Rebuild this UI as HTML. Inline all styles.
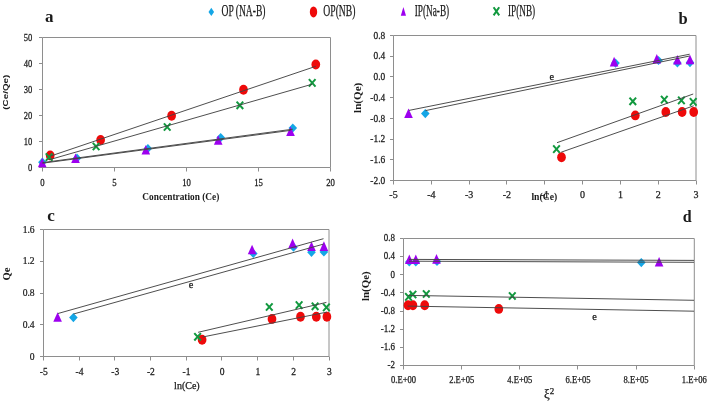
<!DOCTYPE html>
<html><head><meta charset="utf-8"><style>
html,body{margin:0;padding:0;background:#fff;}
body{width:708px;height:402px;overflow:hidden;font-family:"Liberation Serif",serif;}
svg{display:block;will-change:transform;}
text{stroke:#1a1a1a;stroke-width:0.25px;}
text[font-weight="bold"]{stroke-width:0;}
</style></head><body>
<svg width="708" height="402" viewBox="0 0 708 402">
<rect width="708" height="402" fill="#fff"/>
<polygon points="211.3,7.8 214.1,11.9 211.3,16.0 208.5,11.9" fill="#14a6e6"/>
<text x="221.5" y="15.6" font-family="Liberation Serif, serif" font-size="16" font-weight="normal" text-anchor="start" fill="#1a1a1a" textLength="44.0" lengthAdjust="spacingAndGlyphs">OP (NA-B)</text>
<ellipse cx="313.5" cy="11.9" rx="3.7" ry="5.5" fill="#ee0a0a"/>
<text x="323.3" y="15.6" font-family="Liberation Serif, serif" font-size="16" font-weight="normal" text-anchor="start" fill="#1a1a1a" textLength="32.2" lengthAdjust="spacingAndGlyphs">OP(NB)</text>
<polygon points="403.4,7.0 406.0,15.8 400.8,15.8" fill="#9d00ef"/>
<text x="414.7" y="15.6" font-family="Liberation Serif, serif" font-size="16" font-weight="normal" text-anchor="start" fill="#1a1a1a" textLength="34.5" lengthAdjust="spacingAndGlyphs">IP(Na-B)</text>
<path d="M493.6,7.2L499.2,15.4M499.2,7.2L493.6,15.4" stroke="#12993f" stroke-width="2.0" fill="none"/>
<text x="508.0" y="15.6" font-family="Liberation Serif, serif" font-size="16" font-weight="normal" text-anchor="start" fill="#1a1a1a" textLength="27.2" lengthAdjust="spacingAndGlyphs">IP(NB)</text>
<line x1="42.5" y1="37.5" x2="330.5" y2="37.5" stroke="#8e8e8e" stroke-width="1"/>
<line x1="330.5" y1="37.5" x2="330.5" y2="167.5" stroke="#8e8e8e" stroke-width="1"/>
<line x1="42.5" y1="37.5" x2="42.5" y2="167.5" stroke="#8e8e8e" stroke-width="1"/>
<line x1="42.0" y1="167.5" x2="330.5" y2="167.5" stroke="#8e8e8e" stroke-width="1"/>
<line x1="39.0" y1="167.5" x2="42.5" y2="167.5" stroke="#8e8e8e" stroke-width="1"/>
<text transform="translate(32.4,170.9) scale(0.84,1)" font-family="Liberation Serif, serif" font-size="10.2" font-weight="normal" text-anchor="end" fill="#1a1a1a">0</text>
<line x1="39.0" y1="141.5" x2="42.5" y2="141.5" stroke="#8e8e8e" stroke-width="1"/>
<text transform="translate(32.4,144.9) scale(0.84,1)" font-family="Liberation Serif, serif" font-size="10.2" font-weight="normal" text-anchor="end" fill="#1a1a1a">10</text>
<line x1="39.0" y1="115.5" x2="42.5" y2="115.5" stroke="#8e8e8e" stroke-width="1"/>
<text transform="translate(32.4,118.9) scale(0.84,1)" font-family="Liberation Serif, serif" font-size="10.2" font-weight="normal" text-anchor="end" fill="#1a1a1a">20</text>
<line x1="39.0" y1="89.5" x2="42.5" y2="89.5" stroke="#8e8e8e" stroke-width="1"/>
<text transform="translate(32.4,92.9) scale(0.84,1)" font-family="Liberation Serif, serif" font-size="10.2" font-weight="normal" text-anchor="end" fill="#1a1a1a">30</text>
<line x1="39.0" y1="63.5" x2="42.5" y2="63.5" stroke="#8e8e8e" stroke-width="1"/>
<text transform="translate(32.4,66.9) scale(0.84,1)" font-family="Liberation Serif, serif" font-size="10.2" font-weight="normal" text-anchor="end" fill="#1a1a1a">40</text>
<line x1="39.0" y1="37.5" x2="42.5" y2="37.5" stroke="#8e8e8e" stroke-width="1"/>
<text transform="translate(32.4,40.9) scale(0.84,1)" font-family="Liberation Serif, serif" font-size="10.2" font-weight="normal" text-anchor="end" fill="#1a1a1a">50</text>
<line x1="42.5" y1="167.5" x2="42.5" y2="171.5" stroke="#8e8e8e" stroke-width="1"/>
<text transform="translate(42.5,185.5) scale(0.84,1)" font-family="Liberation Serif, serif" font-size="10.4" font-weight="normal" text-anchor="middle" fill="#1a1a1a">0</text>
<line x1="114.5" y1="167.5" x2="114.5" y2="171.5" stroke="#8e8e8e" stroke-width="1"/>
<text transform="translate(114.5,185.5) scale(0.84,1)" font-family="Liberation Serif, serif" font-size="10.4" font-weight="normal" text-anchor="middle" fill="#1a1a1a">5</text>
<line x1="186.5" y1="167.5" x2="186.5" y2="171.5" stroke="#8e8e8e" stroke-width="1"/>
<text transform="translate(186.5,185.5) scale(0.84,1)" font-family="Liberation Serif, serif" font-size="10.4" font-weight="normal" text-anchor="middle" fill="#1a1a1a">10</text>
<line x1="258.5" y1="167.5" x2="258.5" y2="171.5" stroke="#8e8e8e" stroke-width="1"/>
<text transform="translate(258.5,185.5) scale(0.84,1)" font-family="Liberation Serif, serif" font-size="10.4" font-weight="normal" text-anchor="middle" fill="#1a1a1a">15</text>
<line x1="330.5" y1="167.5" x2="330.5" y2="171.5" stroke="#8e8e8e" stroke-width="1"/>
<text transform="translate(330.5,185.5) scale(0.84,1)" font-family="Liberation Serif, serif" font-size="10.4" font-weight="normal" text-anchor="middle" fill="#1a1a1a">20</text>
<text x="142.3" y="200.1" font-family="Liberation Serif, serif" font-size="10.4" font-weight="bold" text-anchor="start" fill="#1a1a1a" textLength="77.0" lengthAdjust="spacingAndGlyphs">Concentration (Ce)</text>
<text transform="translate(5.0,92.2) rotate(-90)" x="0" y="2.6" font-family="Liberation Sans, serif" font-size="7.5" font-weight="bold" text-anchor="middle" fill="#1a1a1a" textLength="35.0" lengthAdjust="spacingAndGlyphs">(Ce/Qe)</text>
<text x="45.0" y="22.0" font-family="Liberation Serif, serif" font-size="17" font-weight="bold" text-anchor="start" fill="#1a1a1a">a</text>
<polygon points="42.4,157.6 46.7,162.2 42.4,166.8 38.1,162.2" fill="#14a6e6"/>
<polygon points="77.0,153.6 81.3,158.2 77.0,162.8 72.7,158.2" fill="#14a6e6"/>
<polygon points="147.9,143.9 152.2,148.5 147.9,153.1 143.6,148.5" fill="#14a6e6"/>
<polygon points="220.7,133.0 225.0,137.6 220.7,142.2 216.4,137.6" fill="#14a6e6"/>
<polygon points="292.8,123.4 297.1,128.0 292.8,132.6 288.5,128.0" fill="#14a6e6"/>
<polygon points="42.2,157.7 46.5,167.3 37.9,167.3" fill="#9d00ef"/>
<polygon points="75.5,153.4 79.8,163.0 71.2,163.0" fill="#9d00ef"/>
<polygon points="145.8,144.9 150.1,154.5 141.5,154.5" fill="#9d00ef"/>
<polygon points="218.2,135.2 222.5,144.8 213.9,144.8" fill="#9d00ef"/>
<polygon points="290.5,126.5 294.8,136.1 286.2,136.1" fill="#9d00ef"/>
<ellipse cx="50.2" cy="155.4" rx="4.35" ry="4.95" fill="#ee0a0a"/>
<ellipse cx="100.6" cy="140.0" rx="4.35" ry="4.95" fill="#ee0a0a"/>
<ellipse cx="171.6" cy="115.7" rx="4.35" ry="4.95" fill="#ee0a0a"/>
<ellipse cx="243.5" cy="89.8" rx="4.35" ry="4.95" fill="#ee0a0a"/>
<ellipse cx="315.8" cy="64.5" rx="4.35" ry="4.95" fill="#ee0a0a"/>
<path d="M45.8,153.4L52.4,160.8M52.4,153.4L45.8,160.8" stroke="#12993f" stroke-width="2.0" fill="none"/>
<path d="M92.8,142.8L99.4,150.2M99.4,142.8L92.8,150.2" stroke="#12993f" stroke-width="2.0" fill="none"/>
<path d="M163.9,123.3L170.5,130.7M170.5,123.3L163.9,130.7" stroke="#12993f" stroke-width="2.0" fill="none"/>
<path d="M236.6,101.6L243.2,109.0M243.2,101.6L236.6,109.0" stroke="#12993f" stroke-width="2.0" fill="none"/>
<path d="M308.9,79.2L315.5,86.6M315.5,79.2L308.9,86.6" stroke="#12993f" stroke-width="2.0" fill="none"/>
<line x1="42.5" y1="163.2" x2="290.5" y2="130.4" stroke="#454545" stroke-width="0.95"/>
<line x1="42.5" y1="162.6" x2="292.8" y2="129.2" stroke="#454545" stroke-width="0.95"/>
<line x1="49.1" y1="159.8" x2="312.2" y2="84.2" stroke="#454545" stroke-width="0.95"/>
<line x1="50.2" y1="156.2" x2="315.8" y2="66.3" stroke="#454545" stroke-width="0.95"/>
<line x1="393.5" y1="35.5" x2="696.0" y2="35.5" stroke="#8e8e8e" stroke-width="1"/>
<line x1="696.0" y1="35.5" x2="696.0" y2="180.5" stroke="#8e8e8e" stroke-width="1"/>
<line x1="393.5" y1="35.5" x2="393.5" y2="180.5" stroke="#8e8e8e" stroke-width="1"/>
<line x1="393.0" y1="180.5" x2="696.0" y2="180.5" stroke="#8e8e8e" stroke-width="1"/>
<line x1="390.0" y1="35.5" x2="393.5" y2="35.5" stroke="#8e8e8e" stroke-width="1"/>
<text transform="translate(385.2,38.7) scale(0.92,1)" font-family="Liberation Serif, serif" font-size="10.2" font-weight="normal" text-anchor="end" fill="#1a1a1a">0.8</text>
<line x1="390.0" y1="56.5" x2="393.5" y2="56.5" stroke="#8e8e8e" stroke-width="1"/>
<text transform="translate(385.2,59.4) scale(0.92,1)" font-family="Liberation Serif, serif" font-size="10.2" font-weight="normal" text-anchor="end" fill="#1a1a1a">0.4</text>
<line x1="390.0" y1="76.5" x2="393.5" y2="76.5" stroke="#8e8e8e" stroke-width="1"/>
<text transform="translate(385.2,80.1) scale(0.92,1)" font-family="Liberation Serif, serif" font-size="10.2" font-weight="normal" text-anchor="end" fill="#1a1a1a">0.0</text>
<line x1="390.0" y1="97.5" x2="393.5" y2="97.5" stroke="#8e8e8e" stroke-width="1"/>
<text transform="translate(385.2,100.8) scale(0.92,1)" font-family="Liberation Serif, serif" font-size="10.2" font-weight="normal" text-anchor="end" fill="#1a1a1a">-0.4</text>
<line x1="390.0" y1="118.5" x2="393.5" y2="118.5" stroke="#8e8e8e" stroke-width="1"/>
<text transform="translate(385.2,121.6) scale(0.92,1)" font-family="Liberation Serif, serif" font-size="10.2" font-weight="normal" text-anchor="end" fill="#1a1a1a">-0.8</text>
<line x1="390.0" y1="139.5" x2="393.5" y2="139.5" stroke="#8e8e8e" stroke-width="1"/>
<text transform="translate(385.2,142.3) scale(0.92,1)" font-family="Liberation Serif, serif" font-size="10.2" font-weight="normal" text-anchor="end" fill="#1a1a1a">-1.2</text>
<line x1="390.0" y1="159.5" x2="393.5" y2="159.5" stroke="#8e8e8e" stroke-width="1"/>
<text transform="translate(385.2,163.0) scale(0.92,1)" font-family="Liberation Serif, serif" font-size="10.2" font-weight="normal" text-anchor="end" fill="#1a1a1a">-1.6</text>
<line x1="390.0" y1="180.5" x2="393.5" y2="180.5" stroke="#8e8e8e" stroke-width="1"/>
<text transform="translate(385.2,183.7) scale(0.92,1)" font-family="Liberation Serif, serif" font-size="10.2" font-weight="normal" text-anchor="end" fill="#1a1a1a">-2.0</text>
<line x1="393.5" y1="180.5" x2="393.5" y2="184.5" stroke="#8e8e8e" stroke-width="1"/>
<text x="393.5" y="198.1" font-family="Liberation Serif, serif" font-size="10" font-weight="normal" text-anchor="middle" fill="#1a1a1a">-5</text>
<line x1="431.5" y1="180.5" x2="431.5" y2="184.5" stroke="#8e8e8e" stroke-width="1"/>
<text x="431.3" y="198.1" font-family="Liberation Serif, serif" font-size="10" font-weight="normal" text-anchor="middle" fill="#1a1a1a">-4</text>
<line x1="469.5" y1="180.5" x2="469.5" y2="184.5" stroke="#8e8e8e" stroke-width="1"/>
<text x="469.1" y="198.1" font-family="Liberation Serif, serif" font-size="10" font-weight="normal" text-anchor="middle" fill="#1a1a1a">-3</text>
<line x1="506.5" y1="180.5" x2="506.5" y2="184.5" stroke="#8e8e8e" stroke-width="1"/>
<text x="506.9" y="198.1" font-family="Liberation Serif, serif" font-size="10" font-weight="normal" text-anchor="middle" fill="#1a1a1a">-2</text>
<line x1="544.5" y1="180.5" x2="544.5" y2="184.5" stroke="#8e8e8e" stroke-width="1"/>
<text x="544.8" y="198.1" font-family="Liberation Serif, serif" font-size="10" font-weight="normal" text-anchor="middle" fill="#1a1a1a">-1</text>
<line x1="582.5" y1="180.5" x2="582.5" y2="184.5" stroke="#8e8e8e" stroke-width="1"/>
<text x="582.6" y="198.1" font-family="Liberation Serif, serif" font-size="10" font-weight="normal" text-anchor="middle" fill="#1a1a1a">0</text>
<line x1="620.5" y1="180.5" x2="620.5" y2="184.5" stroke="#8e8e8e" stroke-width="1"/>
<text x="620.4" y="198.1" font-family="Liberation Serif, serif" font-size="10" font-weight="normal" text-anchor="middle" fill="#1a1a1a">1</text>
<line x1="658.5" y1="180.5" x2="658.5" y2="184.5" stroke="#8e8e8e" stroke-width="1"/>
<text x="658.2" y="198.1" font-family="Liberation Serif, serif" font-size="10" font-weight="normal" text-anchor="middle" fill="#1a1a1a">2</text>
<line x1="696.5" y1="180.5" x2="696.5" y2="184.5" stroke="#8e8e8e" stroke-width="1"/>
<text x="696.0" y="198.1" font-family="Liberation Serif, serif" font-size="10" font-weight="normal" text-anchor="middle" fill="#1a1a1a">3</text>
<text x="531.4" y="199.6" font-family="Liberation Serif, serif" font-size="10.2" font-weight="bold" text-anchor="start" fill="#1a1a1a" textLength="25.8" lengthAdjust="spacingAndGlyphs">ln(Ce)</text>
<text transform="translate(357.8,97.8) rotate(-90)" x="0" y="3.3" font-family="Liberation Serif, serif" font-size="9.4" font-weight="bold" text-anchor="middle" fill="#1a1a1a" textLength="30.2" lengthAdjust="spacingAndGlyphs">ln(Qe)</text>
<text x="678.5" y="24.3" font-family="Liberation Serif, serif" font-size="16.5" font-weight="bold" text-anchor="start" fill="#1a1a1a">b</text>
<text x="551.8" y="79.9" font-family="Liberation Serif, serif" font-size="10.4" font-weight="normal" text-anchor="middle" fill="#1a1a1a">e</text>
<polygon points="425.3,109.0 429.6,113.6 425.3,118.2 421.0,113.6" fill="#14a6e6"/>
<polygon points="615.5,58.5 619.8,63.1 615.5,67.7 611.2,63.1" fill="#14a6e6"/>
<polygon points="658.5,55.9 662.8,60.5 658.5,65.1 654.2,60.5" fill="#14a6e6"/>
<polygon points="677.4,58.4 681.7,63.0 677.4,67.6 673.1,63.0" fill="#14a6e6"/>
<polygon points="690.0,58.0 694.3,62.6 690.0,67.2 685.7,62.6" fill="#14a6e6"/>
<polygon points="408.5,108.4 412.8,118.0 404.2,118.0" fill="#9d00ef"/>
<polygon points="614.1,56.8 618.4,66.4 609.8,66.4" fill="#9d00ef"/>
<polygon points="656.8,54.0 661.1,63.6 652.5,63.6" fill="#9d00ef"/>
<polygon points="677.4,54.9 681.7,64.5 673.1,64.5" fill="#9d00ef"/>
<polygon points="690.0,54.7 694.3,64.3 685.7,64.3" fill="#9d00ef"/>
<ellipse cx="561.5" cy="157.3" rx="4.35" ry="4.95" fill="#ee0a0a"/>
<ellipse cx="635.3" cy="115.4" rx="4.35" ry="4.95" fill="#ee0a0a"/>
<ellipse cx="665.8" cy="112.0" rx="4.35" ry="4.95" fill="#ee0a0a"/>
<ellipse cx="682.1" cy="112.0" rx="4.35" ry="4.95" fill="#ee0a0a"/>
<ellipse cx="693.7" cy="112.0" rx="4.35" ry="4.95" fill="#ee0a0a"/>
<path d="M553.2,145.4L559.8,152.8M559.8,145.4L553.2,152.8" stroke="#12993f" stroke-width="2.0" fill="none"/>
<path d="M629.5,97.6L636.1,105.0M636.1,97.6L629.5,105.0" stroke="#12993f" stroke-width="2.0" fill="none"/>
<path d="M661.0,95.9L667.6,103.3M667.6,95.9L661.0,103.3" stroke="#12993f" stroke-width="2.0" fill="none"/>
<path d="M678.1,96.7L684.7,104.1M684.7,96.7L678.1,104.1" stroke="#12993f" stroke-width="2.0" fill="none"/>
<path d="M689.9,98.2L696.5,105.6M696.5,98.2L689.9,105.6" stroke="#12993f" stroke-width="2.0" fill="none"/>
<line x1="409.0" y1="110.4" x2="689.7" y2="54.2" stroke="#454545" stroke-width="0.95"/>
<line x1="425.5" y1="110.6" x2="689.7" y2="56.0" stroke="#454545" stroke-width="0.95"/>
<line x1="557.0" y1="142.7" x2="693.2" y2="94.0" stroke="#454545" stroke-width="0.95"/>
<line x1="561.2" y1="152.2" x2="693.7" y2="105.8" stroke="#454545" stroke-width="0.95"/>
<line x1="43.5" y1="229.5" x2="329.0" y2="229.5" stroke="#8e8e8e" stroke-width="1"/>
<line x1="329.0" y1="229.5" x2="329.0" y2="356.5" stroke="#8e8e8e" stroke-width="1"/>
<line x1="43.5" y1="229.5" x2="43.5" y2="356.5" stroke="#8e8e8e" stroke-width="1"/>
<line x1="43.0" y1="356.5" x2="329.0" y2="356.5" stroke="#8e8e8e" stroke-width="1"/>
<line x1="40.0" y1="356.5" x2="43.5" y2="356.5" stroke="#8e8e8e" stroke-width="1"/>
<text transform="translate(34.6,359.6) scale(0.88,1)" font-family="Liberation Serif, serif" font-size="10.9" font-weight="normal" text-anchor="end" fill="#1a1a1a">0</text>
<line x1="40.0" y1="324.5" x2="43.5" y2="324.5" stroke="#8e8e8e" stroke-width="1"/>
<text transform="translate(34.6,327.9) scale(0.88,1)" font-family="Liberation Serif, serif" font-size="10.9" font-weight="normal" text-anchor="end" fill="#1a1a1a">0.4</text>
<line x1="40.0" y1="293.5" x2="43.5" y2="293.5" stroke="#8e8e8e" stroke-width="1"/>
<text transform="translate(34.6,296.1) scale(0.88,1)" font-family="Liberation Serif, serif" font-size="10.9" font-weight="normal" text-anchor="end" fill="#1a1a1a">0.8</text>
<line x1="40.0" y1="261.5" x2="43.5" y2="261.5" stroke="#8e8e8e" stroke-width="1"/>
<text transform="translate(34.6,264.4) scale(0.88,1)" font-family="Liberation Serif, serif" font-size="10.9" font-weight="normal" text-anchor="end" fill="#1a1a1a">1.2</text>
<line x1="40.0" y1="229.5" x2="43.5" y2="229.5" stroke="#8e8e8e" stroke-width="1"/>
<text transform="translate(34.6,232.6) scale(0.88,1)" font-family="Liberation Serif, serif" font-size="10.9" font-weight="normal" text-anchor="end" fill="#1a1a1a">1.6</text>
<line x1="43.5" y1="356.5" x2="43.5" y2="360.5" stroke="#8e8e8e" stroke-width="1"/>
<text transform="translate(43.8,374.6) scale(0.92,1)" font-family="Liberation Serif, serif" font-size="10.4" font-weight="normal" text-anchor="middle" fill="#1a1a1a">-5</text>
<line x1="79.5" y1="356.5" x2="79.5" y2="360.5" stroke="#8e8e8e" stroke-width="1"/>
<text transform="translate(79.5,374.6) scale(0.92,1)" font-family="Liberation Serif, serif" font-size="10.4" font-weight="normal" text-anchor="middle" fill="#1a1a1a">-4</text>
<line x1="114.5" y1="356.5" x2="114.5" y2="360.5" stroke="#8e8e8e" stroke-width="1"/>
<text transform="translate(115.2,374.6) scale(0.92,1)" font-family="Liberation Serif, serif" font-size="10.4" font-weight="normal" text-anchor="middle" fill="#1a1a1a">-3</text>
<line x1="150.5" y1="356.5" x2="150.5" y2="360.5" stroke="#8e8e8e" stroke-width="1"/>
<text transform="translate(150.9,374.6) scale(0.92,1)" font-family="Liberation Serif, serif" font-size="10.4" font-weight="normal" text-anchor="middle" fill="#1a1a1a">-2</text>
<line x1="186.5" y1="356.5" x2="186.5" y2="360.5" stroke="#8e8e8e" stroke-width="1"/>
<text transform="translate(186.6,374.6) scale(0.92,1)" font-family="Liberation Serif, serif" font-size="10.4" font-weight="normal" text-anchor="middle" fill="#1a1a1a">-1</text>
<line x1="221.5" y1="356.5" x2="221.5" y2="360.5" stroke="#8e8e8e" stroke-width="1"/>
<text transform="translate(222.2,374.6) scale(0.92,1)" font-family="Liberation Serif, serif" font-size="10.4" font-weight="normal" text-anchor="middle" fill="#1a1a1a">0</text>
<line x1="257.5" y1="356.5" x2="257.5" y2="360.5" stroke="#8e8e8e" stroke-width="1"/>
<text transform="translate(257.9,374.6) scale(0.92,1)" font-family="Liberation Serif, serif" font-size="10.4" font-weight="normal" text-anchor="middle" fill="#1a1a1a">1</text>
<line x1="293.5" y1="356.5" x2="293.5" y2="360.5" stroke="#8e8e8e" stroke-width="1"/>
<text transform="translate(293.6,374.6) scale(0.92,1)" font-family="Liberation Serif, serif" font-size="10.4" font-weight="normal" text-anchor="middle" fill="#1a1a1a">2</text>
<line x1="329.5" y1="356.5" x2="329.5" y2="360.5" stroke="#8e8e8e" stroke-width="1"/>
<text transform="translate(329.3,374.6) scale(0.92,1)" font-family="Liberation Serif, serif" font-size="10.4" font-weight="normal" text-anchor="middle" fill="#1a1a1a">3</text>
<text x="174.1" y="388.6" font-family="Liberation Serif, serif" font-size="10" font-weight="normal" text-anchor="start" fill="#1a1a1a" textLength="25.6" lengthAdjust="spacingAndGlyphs">ln(Ce)</text>
<text transform="translate(6.1,274.0) rotate(-90)" x="0" y="3.5" font-family="Liberation Serif, serif" font-size="10" font-weight="bold" text-anchor="middle" fill="#1a1a1a" textLength="13.0" lengthAdjust="spacingAndGlyphs">Qe</text>
<text x="47.3" y="221.4" font-family="Liberation Serif, serif" font-size="17" font-weight="bold" text-anchor="start" fill="#1a1a1a">c</text>
<text x="191.0" y="288.3" font-family="Liberation Serif, serif" font-size="10.4" font-weight="normal" text-anchor="middle" fill="#1a1a1a">e</text>
<polygon points="73.4,313.0 77.7,317.6 73.4,322.2 69.1,317.6" fill="#14a6e6"/>
<polygon points="253.3,248.9 257.6,253.5 253.3,258.1 249.0,253.5" fill="#14a6e6"/>
<polygon points="293.5,242.6 297.8,247.2 293.5,251.8 289.2,247.2" fill="#14a6e6"/>
<polygon points="311.5,247.7 315.8,252.3 311.5,256.9 307.2,252.3" fill="#14a6e6"/>
<polygon points="323.9,247.4 328.2,252.0 323.9,256.6 319.6,252.0" fill="#14a6e6"/>
<polygon points="57.6,312.2 61.9,321.8 53.3,321.8" fill="#9d00ef"/>
<polygon points="252.1,244.7 256.4,254.3 247.8,254.3" fill="#9d00ef"/>
<polygon points="292.6,238.6 296.9,248.2 288.3,248.2" fill="#9d00ef"/>
<polygon points="311.5,241.5 315.8,251.1 307.2,251.1" fill="#9d00ef"/>
<polygon points="323.9,241.3 328.2,250.9 319.6,250.9" fill="#9d00ef"/>
<ellipse cx="202.1" cy="339.7" rx="4.35" ry="4.95" fill="#ee0a0a"/>
<ellipse cx="272.0" cy="318.9" rx="4.35" ry="4.95" fill="#ee0a0a"/>
<ellipse cx="300.5" cy="316.7" rx="4.35" ry="4.95" fill="#ee0a0a"/>
<ellipse cx="316.3" cy="316.7" rx="4.35" ry="4.95" fill="#ee0a0a"/>
<ellipse cx="326.9" cy="316.7" rx="4.35" ry="4.95" fill="#ee0a0a"/>
<path d="M194.3,333.1L200.9,340.5M200.9,333.1L194.3,340.5" stroke="#12993f" stroke-width="2.0" fill="none"/>
<path d="M266.0,303.3L272.6,310.7M272.6,303.3L266.0,310.7" stroke="#12993f" stroke-width="2.0" fill="none"/>
<path d="M295.8,301.4L302.4,308.8M302.4,301.4L295.8,308.8" stroke="#12993f" stroke-width="2.0" fill="none"/>
<path d="M311.8,302.6L318.4,310.0M318.4,302.6L311.8,310.0" stroke="#12993f" stroke-width="2.0" fill="none"/>
<path d="M323.1,303.7L329.7,311.1M329.7,303.7L323.1,311.1" stroke="#12993f" stroke-width="2.0" fill="none"/>
<line x1="58.0" y1="313.5" x2="323.5" y2="238.7" stroke="#454545" stroke-width="0.95"/>
<line x1="73.5" y1="314.0" x2="323.5" y2="244.1" stroke="#454545" stroke-width="0.95"/>
<line x1="198.1" y1="332.3" x2="326.4" y2="302.4" stroke="#454545" stroke-width="0.95"/>
<line x1="202.6" y1="337.0" x2="326.9" y2="312.1" stroke="#454545" stroke-width="0.95"/>
<line x1="403.5" y1="238.5" x2="694.3" y2="238.5" stroke="#8e8e8e" stroke-width="1"/>
<line x1="694.3" y1="238.5" x2="694.3" y2="365.5" stroke="#8e8e8e" stroke-width="1"/>
<line x1="403.5" y1="238.5" x2="403.5" y2="365.5" stroke="#8e8e8e" stroke-width="1"/>
<line x1="403.0" y1="365.5" x2="694.3" y2="365.5" stroke="#8e8e8e" stroke-width="1"/>
<line x1="400.0" y1="238.5" x2="403.5" y2="238.5" stroke="#8e8e8e" stroke-width="1"/>
<text transform="translate(394.9,241.3) scale(0.87,1)" font-family="Liberation Serif, serif" font-size="10.3" font-weight="normal" text-anchor="end" fill="#1a1a1a">0.8</text>
<line x1="400.0" y1="256.5" x2="403.5" y2="256.5" stroke="#8e8e8e" stroke-width="1"/>
<text transform="translate(394.9,259.4) scale(0.87,1)" font-family="Liberation Serif, serif" font-size="10.3" font-weight="normal" text-anchor="end" fill="#1a1a1a">0.4</text>
<line x1="400.0" y1="274.5" x2="403.5" y2="274.5" stroke="#8e8e8e" stroke-width="1"/>
<text transform="translate(394.9,277.6) scale(0.87,1)" font-family="Liberation Serif, serif" font-size="10.3" font-weight="normal" text-anchor="end" fill="#1a1a1a">0</text>
<line x1="400.0" y1="292.5" x2="403.5" y2="292.5" stroke="#8e8e8e" stroke-width="1"/>
<text transform="translate(394.9,295.7) scale(0.87,1)" font-family="Liberation Serif, serif" font-size="10.3" font-weight="normal" text-anchor="end" fill="#1a1a1a">-0.4</text>
<line x1="400.0" y1="311.5" x2="403.5" y2="311.5" stroke="#8e8e8e" stroke-width="1"/>
<text transform="translate(394.9,313.9) scale(0.87,1)" font-family="Liberation Serif, serif" font-size="10.3" font-weight="normal" text-anchor="end" fill="#1a1a1a">-0.8</text>
<line x1="400.0" y1="329.5" x2="403.5" y2="329.5" stroke="#8e8e8e" stroke-width="1"/>
<text transform="translate(394.9,332.0) scale(0.87,1)" font-family="Liberation Serif, serif" font-size="10.3" font-weight="normal" text-anchor="end" fill="#1a1a1a">-1.2</text>
<line x1="400.0" y1="347.5" x2="403.5" y2="347.5" stroke="#8e8e8e" stroke-width="1"/>
<text transform="translate(394.9,350.2) scale(0.87,1)" font-family="Liberation Serif, serif" font-size="10.3" font-weight="normal" text-anchor="end" fill="#1a1a1a">-1.6</text>
<line x1="400.0" y1="365.5" x2="403.5" y2="365.5" stroke="#8e8e8e" stroke-width="1"/>
<text transform="translate(394.9,368.3) scale(0.87,1)" font-family="Liberation Serif, serif" font-size="10.3" font-weight="normal" text-anchor="end" fill="#1a1a1a">-2</text>
<line x1="403.5" y1="365.5" x2="403.5" y2="369.5" stroke="#8e8e8e" stroke-width="1"/>
<text x="403.5" y="383.0" font-family="Liberation Serif, serif" font-size="9.6" font-weight="normal" text-anchor="middle" fill="#1a1a1a" textLength="25.0" lengthAdjust="spacingAndGlyphs">0.E+00</text>
<line x1="461.5" y1="365.5" x2="461.5" y2="369.5" stroke="#8e8e8e" stroke-width="1"/>
<text x="461.7" y="383.0" font-family="Liberation Serif, serif" font-size="9.6" font-weight="normal" text-anchor="middle" fill="#1a1a1a" textLength="25.0" lengthAdjust="spacingAndGlyphs">2.E+05</text>
<line x1="519.5" y1="365.5" x2="519.5" y2="369.5" stroke="#8e8e8e" stroke-width="1"/>
<text x="519.8" y="383.0" font-family="Liberation Serif, serif" font-size="9.6" font-weight="normal" text-anchor="middle" fill="#1a1a1a" textLength="25.0" lengthAdjust="spacingAndGlyphs">4.E+05</text>
<line x1="577.5" y1="365.5" x2="577.5" y2="369.5" stroke="#8e8e8e" stroke-width="1"/>
<text x="578.0" y="383.0" font-family="Liberation Serif, serif" font-size="9.6" font-weight="normal" text-anchor="middle" fill="#1a1a1a" textLength="25.0" lengthAdjust="spacingAndGlyphs">6.E+05</text>
<line x1="636.5" y1="365.5" x2="636.5" y2="369.5" stroke="#8e8e8e" stroke-width="1"/>
<text x="636.1" y="383.0" font-family="Liberation Serif, serif" font-size="9.6" font-weight="normal" text-anchor="middle" fill="#1a1a1a" textLength="25.0" lengthAdjust="spacingAndGlyphs">8.E+05</text>
<line x1="694.5" y1="365.5" x2="694.5" y2="369.5" stroke="#8e8e8e" stroke-width="1"/>
<text x="694.3" y="383.0" font-family="Liberation Serif, serif" font-size="9.6" font-weight="normal" text-anchor="middle" fill="#1a1a1a" textLength="25.0" lengthAdjust="spacingAndGlyphs">1.E+06</text>
<text x="544.0" y="397.6" font-family="Liberation Serif, serif" font-size="13" font-weight="normal" text-anchor="start" fill="#1a1a1a">ξ<tspan font-size='9' dy='-3.5'>2</tspan></text>
<text transform="translate(366.0,286.2) rotate(-90)" x="0" y="3.3" font-family="Liberation Serif, serif" font-size="9.4" font-weight="bold" text-anchor="middle" fill="#1a1a1a" textLength="29.6" lengthAdjust="spacingAndGlyphs">ln(Qe)</text>
<text x="682.8" y="222.3" font-family="Liberation Serif, serif" font-size="16" font-weight="bold" text-anchor="start" fill="#1a1a1a">d</text>
<text x="594.6" y="319.9" font-family="Liberation Serif, serif" font-size="10.4" font-weight="normal" text-anchor="middle" fill="#1a1a1a">e</text>
<polygon points="409.3,257.4 413.6,262.0 409.3,266.6 405.0,262.0" fill="#14a6e6"/>
<polygon points="415.8,257.4 420.1,262.0 415.8,266.6 411.5,262.0" fill="#14a6e6"/>
<polygon points="437.0,256.9 441.3,261.5 437.0,266.1 432.7,261.5" fill="#14a6e6"/>
<polygon points="641.3,258.0 645.6,262.6 641.3,267.2 637.0,262.6" fill="#14a6e6"/>
<polygon points="409.3,254.5 413.6,264.1 405.0,264.1" fill="#9d00ef"/>
<polygon points="415.8,254.5 420.1,264.1 411.5,264.1" fill="#9d00ef"/>
<polygon points="436.5,254.1 440.8,263.7 432.2,263.7" fill="#9d00ef"/>
<polygon points="659.1,256.9 663.4,266.5 654.8,266.5" fill="#9d00ef"/>
<ellipse cx="408.0" cy="305.3" rx="4.35" ry="4.95" fill="#ee0a0a"/>
<ellipse cx="412.9" cy="305.3" rx="4.35" ry="4.95" fill="#ee0a0a"/>
<ellipse cx="424.7" cy="305.3" rx="4.35" ry="4.95" fill="#ee0a0a"/>
<ellipse cx="498.8" cy="308.9" rx="4.35" ry="4.95" fill="#ee0a0a"/>
<path d="M405.2,293.2L411.8,300.6M411.8,293.2L405.2,300.6" stroke="#12993f" stroke-width="2.0" fill="none"/>
<path d="M409.6,290.8L416.2,298.2M416.2,290.8L409.6,298.2" stroke="#12993f" stroke-width="2.0" fill="none"/>
<path d="M423.0,290.3L429.6,297.7M429.6,290.3L423.0,297.7" stroke="#12993f" stroke-width="2.0" fill="none"/>
<path d="M509.0,292.3L515.6,299.7M515.6,292.3L509.0,299.7" stroke="#12993f" stroke-width="2.0" fill="none"/>
<line x1="409.0" y1="259.4" x2="694.0" y2="260.4" stroke="#454545" stroke-width="0.95"/>
<line x1="409.0" y1="261.2" x2="694.0" y2="262.3" stroke="#454545" stroke-width="0.95"/>
<line x1="408.0" y1="295.4" x2="694.0" y2="300.3" stroke="#454545" stroke-width="0.95"/>
<line x1="407.5" y1="306.1" x2="694.0" y2="311.2" stroke="#454545" stroke-width="0.95"/>
</svg>
</body></html>
